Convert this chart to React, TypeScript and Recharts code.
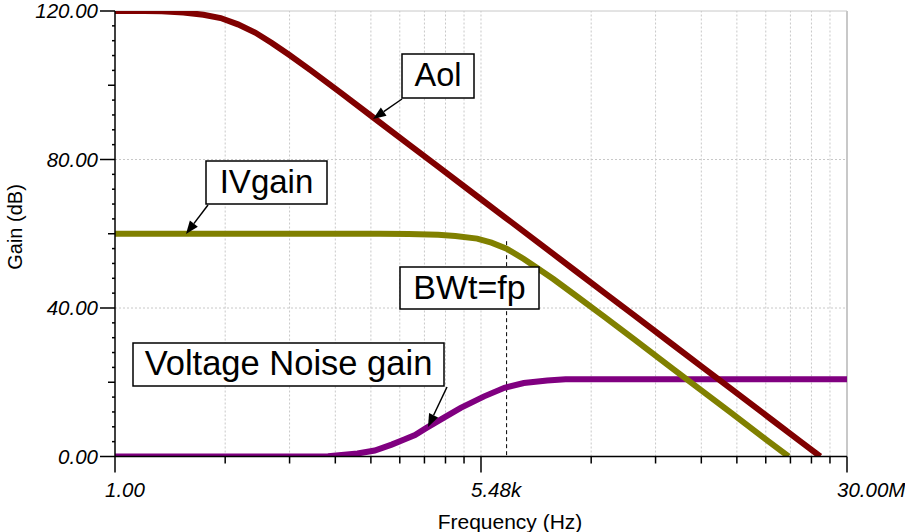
import React from 'react';
import { LineChart, Line, XAxis, YAxis, ReferenceLine } from 'recharts';

// frequency (Hz) / gain (dB)
const aolFreq = [1, 2, 3, 5, 8, 12, 18, 27, 40, 60, 100, 200, 500, 1e3, 2e3, 5e3, 1e4, 2e4, 5e4, 1e5, 2e5, 5e5, 1e6, 2e6, 5e6, 1e7, 1.6e7];
const aolGain = [120, 120, 119.9, 119.6, 119.0, 118.1, 116.4, 114.2, 111.4, 108.2, 104.0, 98.1, 90.1, 84.1, 78.1, 70.1, 64.1, 58.1, 50.1, 44.1, 38.1, 30.1, 24.1, 18.1, 10.1, 4.1, 0];

const ivFreq = [1, 10, 100, 500, 1e3, 2e3, 3e3, 5e3, 7e3, 1e4, 1.5e4, 2e4, 3e4, 5e4, 1e5, 2e5, 5e5, 1e6, 2e6, 5e6, 7.6e6];
const ivGain = [60, 60, 60, 60, 59.9, 59.7, 59.4, 58.7, 57.6, 56.0, 53.2, 51.0, 47.8, 43.5, 37.6, 31.6, 23.6, 17.6, 11.6, 3.6, 0];

const noiseFreq = [1, 100, 150, 300, 450, 670, 900, 1160, 1520, 2270, 3400, 5900, 9500, 15000, 26000, 40000, 3e7];
const noiseGain = [0, 0, 0.1, 0.8, 1.6, 3.2, 4.6, 5.8, 7.7, 10.4, 13.1, 16.2, 18.5, 19.8, 20.5, 20.8, 20.8];

// axis ticks (TINA style: log subdivisions between the labelled points)
const xMajor = [1, 5477, 3e7];
const xMajorLabels = ['1.00', '5.48k', '30.00M'];
const xTicks = [1, 13.35, 60.7, 178, 411, 811, 1448, 2376, 3675, 5477,
  73120, 332400, 975000, 2250000, 4440000, 7930000, 13000000, 20100000, 30000000];
const yTicks = [0, 4, 8, 12, 16, 20, 24, 28, 32, 36, 40, 44, 48, 52, 56, 60, 64, 68, 72, 76, 80,
  84, 88, 92, 96, 100, 104, 108, 112, 116, 120];
const yMajor = [0, 40, 80, 120];
const bwFreq = 10000;

const toRows = (f: number[], g: number[]) => f.map((x, i) => ({ x, y: g[i] }));
const aolData = toRows(aolFreq, aolGain);
const ivData = toRows(ivFreq, ivGain);
const noiseData = toRows(noiseFreq, noiseGain);

const FONT = '"Liberation Sans", Arial, sans-serif';
const GRID = '#c8c8c8';

const XTick = (props: any) => {
    const { x, y, payload } = props;
    const idx = xMajor.indexOf(payload.value);
    const major = idx >= 0;
    return (
        <g>
            <line x1={x} x2={x} y1={y} y2={y + (major ? 16 : 7)} stroke="#000" strokeWidth={1.5} />
            {major && (
                <text x={x - 10} y={y + 40} fontSize={20.5} fontStyle="italic" fontFamily={FONT} fill="#000">
                    {xMajorLabels[idx]}
                </text>
            )}
        </g>
    );
};

const YTick = (props: any) => {
    const { x, y, payload } = props;
    const v = payload.value;
    const major = yMajor.includes(v);
    const len = major ? 15 : v % 20 === 0 ? 7 : 3;
    return (
        <g>
            <line x1={x - len} x2={x} y1={y} y2={y} stroke="#000" strokeWidth={1.5} />
            {major && (
                <text x={x - 17} y={y + 7} textAnchor="end" fontSize={20.5} fontStyle="italic" fontFamily={FONT} fill="#000">
                    {v.toFixed(2)}
                </text>
            )}
        </g>
    );
};

const Arrow = ({ x1, y1, x2, y2 }: { x1: number; y1: number; x2: number; y2: number }) => {
    const a = Math.atan2(y2 - y1, x2 - x1);
    const L = 13, W = 5;
    const bx = x2 - L * Math.cos(a), by = y2 - L * Math.sin(a);
    const px = -Math.sin(a) * W, py = Math.cos(a) * W;
    return (
        <g>
            <line x1={x1} y1={y1} x2={bx} y2={by} stroke="#000" strokeWidth={1.5} />
            <polygon points={`${x2},${y2} ${bx + px},${by + py} ${bx - px},${by - py}`} fill="#000" />
        </g>
    );
};

const boxes = [
    { text: 'Aol', x: 402, y: 54, w: 72, h: 44, fs: 32.5 },
    { text: 'IVgain', x: 206, y: 161, w: 121, h: 43, fs: 33 },
    { text: 'BWt=fp', x: 400, y: 267, w: 139, h: 42, fs: 34 },
    { text: 'Voltage Noise gain', x: 133, y: 343, w: 311, h: 43, fs: 34.5 },
];

export default function App() {
    return (
        <div style={{ position: 'absolute', left: 0, top: 0, width: 905, height: 532, background: '#fff' }}>
            <LineChart width={905} height={532} margin={{ top: 11, right: 58, bottom: 0, left: 0 }}>
                <XAxis
                    dataKey="x" type="number" scale="log" domain={[1, 3e7]} allowDataOverflow
                    ticks={xTicks} interval={0} tickSize={0} tickMargin={0} tickLine={false}
                    tick={<XTick />} height={75.5}
                    axisLine={{ stroke: '#000', strokeWidth: 1.5 }}
                />
                <YAxis
                    type="number" domain={[0, 120]} allowDataOverflow ticks={yTicks} interval={0}
                    tickSize={0} tickMargin={0} tickLine={false} tick={<YTick />} width={115}
                    axisLine={{ stroke: '#000', strokeWidth: 1.5 }}
                />
                {xTicks.slice(1).map((t) => (
                    <ReferenceLine key={'vx' + t} x={t} stroke={GRID} strokeWidth={t === 3e7 ? 2 : 1}
                        strokeDasharray={t === 3e7 ? undefined : '2 2'} />
                ))}
                {yMajor.slice(1).map((t) => (
                    <ReferenceLine key={'hy' + t} y={t} stroke={GRID} strokeWidth={1}
                        strokeDasharray={t === 120 ? undefined : '2 2'} />
                ))}
                <ReferenceLine segment={[{ x: bwFreq, y: 58 }, { x: bwFreq, y: 0 }]} stroke="#000" strokeWidth={1} strokeDasharray="4 3" />
                <Line data={noiseData} dataKey="y" stroke="#800080" strokeWidth={6} dot={false} isAnimationActive={false} />
                <Line data={ivData} dataKey="y" stroke="#808000" strokeWidth={6} dot={false} isAnimationActive={false} />
                <Line data={aolData} dataKey="y" stroke="#800000" strokeWidth={6} dot={false} isAnimationActive={false} />
                <text x={15} y={227} transform="rotate(-90 15 227)" textAnchor="middle" dominantBaseline="central"
                    fontSize={20} fontFamily={FONT} fill="#000">Gain (dB)</text>
                <text x={510} y={529} textAnchor="middle" fontSize={21} fontFamily={FONT} fill="#000">Frequency (Hz)</text>
            </LineChart>
            <svg width={905} height={532} style={{ position: 'absolute', left: 0, top: 0, pointerEvents: 'none' }}>
                {boxes.map((b) => (
                    <g key={b.text}>
                        <rect x={b.x} y={b.y} width={b.w} height={b.h} fill="#fff" stroke="#000" strokeWidth={1.5} />
                        <text x={b.x + b.w / 2} y={b.y + 32} textAnchor="middle" fontSize={b.fs} fontFamily={FONT} fill="#000">{b.text}</text>
                    </g>
                ))}
                <Arrow x1={402} y1={99} x2={373} y2={119} />
                <Arrow x1={208} y1={205} x2={186} y2={234} />
                <Arrow x1={447} y1={387} x2={428} y2={427} />
            </svg>
        </div>
    );
}
